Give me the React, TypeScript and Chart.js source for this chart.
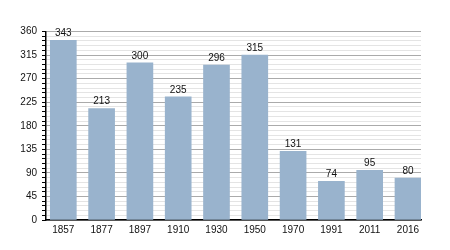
import React, { useEffect, useRef } from "react";
import { Chart, registerables } from "chart.js";

Chart.register(...registerables);

const years = ["1857", "1877", "1897", "1910", "1930", "1950", "1970", "1991", "2011", "2016"];
const population = [343, 213, 300, 235, 296, 315, 131, 74, 95, 80];
const yMax = 360;
const yMajorStep = 45;
const yMinorStep = 9;

const barColor = "#99b3cd";
const fontFamily = '"Liberation Sans", Arial, sans-serif';

const valueLabels = {
  id: "valueLabels",
  afterDatasetsDraw(chart: any) {
    const ctx = chart.ctx;
    const meta = chart.getDatasetMeta(0);
    ctx.save();
    ctx.font = `10px ${fontFamily}`;
    ctx.fillStyle = "#111";
    ctx.textAlign = "center";
    ctx.textBaseline = "alphabetic";
    meta.data.forEach((el: any, i: number) => {
      ctx.fillText(String(population[i]), el.x, el.y - 4);
    });
    ctx.restore();
  },
};

export default function App() {
  const ref = useRef<HTMLCanvasElement>(null);
  useEffect(() => {
    if (!ref.current) return;
    const chart = new Chart(ref.current, {
      type: "bar",
      data: {
        datasets: [
          {
            data: population.map((v, i) => ({ x: i, y: v })),
            backgroundColor: barColor,
            borderWidth: 0,
            barThickness: 26,
          },
        ],
      },
      options: {
        animation: false,
        responsive: false,
        maintainAspectRatio: false,
        layout: { padding: { top: 23.5, right: 21, left: 0, bottom: 0 } },
        plugins: { legend: { display: false }, tooltip: { enabled: false } },
        scales: {
          x: {
            type: "linear",
            offset: false,
            min: -0.452,
            max: 9.34,
            afterBuildTicks: (scale: any) => {
              scale.ticks = years.map((_, i) => ({ value: i }));
            },
            afterFit: (scale: any) => {
              scale.height = 22;
            },
            grid: { display: false, drawTicks: false, tickLength: 0, offset: false },
            border: { display: true, color: "#000", width: 1.5 },
            ticks: {
              autoSkip: false,
              maxRotation: 0,
              padding: 4,
              color: "#111",
              font: { family: fontFamily, size: 10 },
              callback: (v: any) => years[v as number] ?? "",
            },
          },
          y: {
            min: 0,
            max: yMax,
            afterFit: (scale: any) => {
              scale.width = 38;
            },
            ticks: {
              stepSize: yMinorStep,
              autoSkip: false,
              padding: 5,
              color: "#111",
              font: { family: fontFamily, size: 10 },
              callback: (v: any) => ((v as number) % yMajorStep === 0 ? String(v) : ""),
            },
            grid: {
              color: (c: any) =>
                c.tick && c.tick.value % yMajorStep === 0 ? "#aaaaaa" : "#e4e4e4",
              tickColor: "#000",
              tickLength: 4,
              lineWidth: 1,
            },
            border: { display: true, color: "#000", width: 1.5 },
          },
        },
      },
      plugins: [valueLabels],
    });
    return () => chart.destroy();
  }, []);
  return (
    <div style={{ width: 434, height: 234 }}>
      <canvas ref={ref} width={434} height={234} style={{ width: 434, height: 234 }} />
    </div>
  );
}
